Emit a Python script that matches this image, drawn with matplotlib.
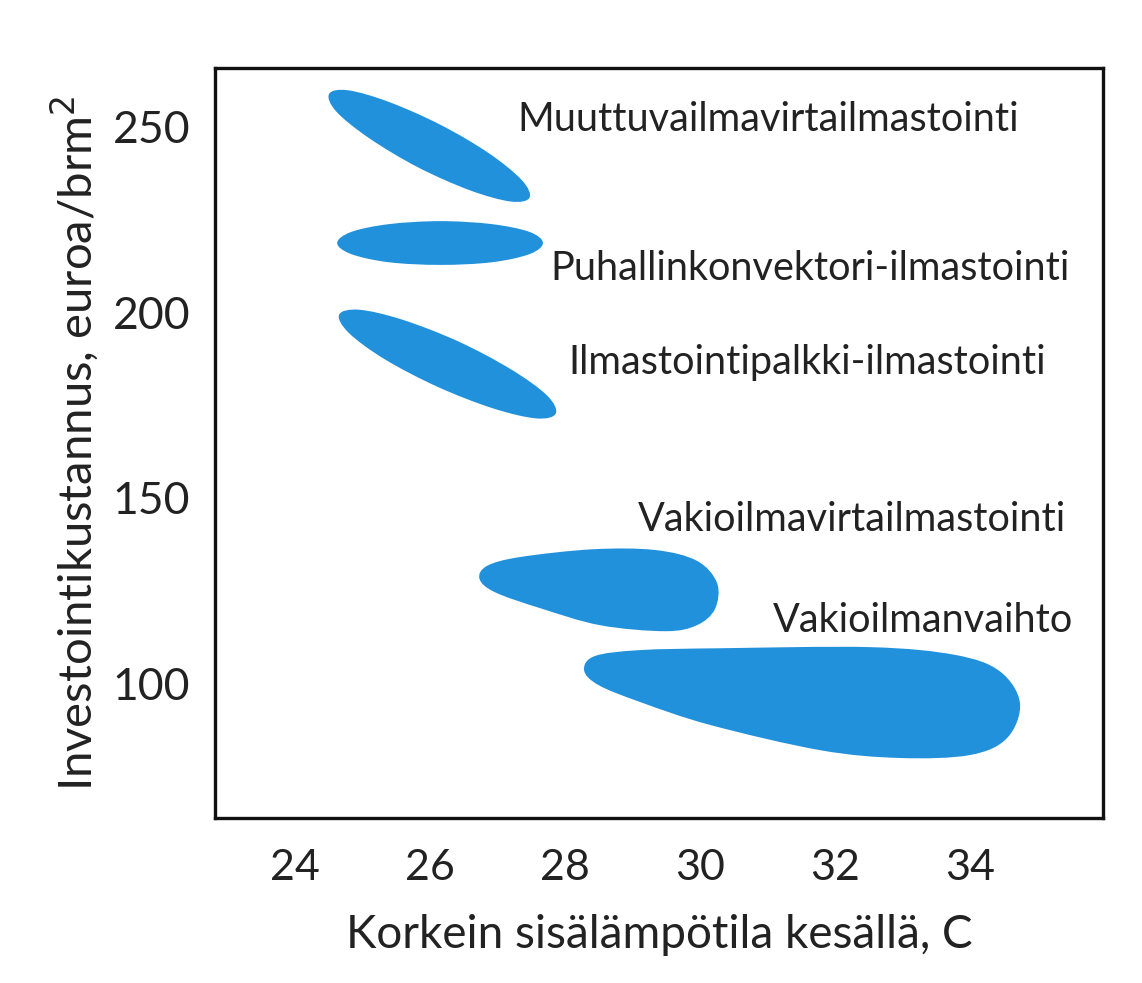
"""Investointikustannus vs. korkein sisälämpötila eri ilmastointiratkaisuilla."""

import numpy as np
import matplotlib.pyplot as plt
from matplotlib.path import Path
from matplotlib.patches import PathPatch

# Region outlines: temperature (C), cost (euroa/brm2)
muuttuva_t = [27.47, 27.19, 26.59, 25.82, 25.10, 24.61, 24.50, 24.78,
              25.38, 26.15, 26.87, 27.36]
muuttuva_c = [230.9, 229.9, 232.9, 239.1, 246.9, 254.1, 258.9, 259.9,
              256.8, 250.6, 242.9, 235.6]

puhallin_t = [27.67, 27.47, 26.91, 26.15, 25.39, 24.83, 24.62, 24.83,
              25.39, 26.15, 26.91, 27.47]
puhallin_c = [218.7, 215.7, 213.5, 212.8, 213.5, 215.7, 218.7, 221.7,
              223.8, 224.6, 223.8, 221.7]

palkki_t = [27.86, 27.57, 26.93, 26.11, 25.32, 24.79, 24.65, 24.95,
            25.59, 26.41, 27.19, 27.73]
palkki_c = [172.7, 171.4, 174.1, 179.9, 187.4, 194.5, 199.4, 200.7,
            198.0, 192.2, 184.7, 177.6]

vakiovirta_t = [26.73, 26.84, 27.33, 28.41, 29.33, 29.95, 30.25, 30.22,
                29.95, 29.48, 28.52, 27.63, 26.96]
vakiovirta_c = [128.1, 131.6, 134.0, 136.1, 135.9, 133.0, 127.0, 120.0,
                115.6, 114.0, 115.6, 120.2, 124.5]

vaihto_t = [28.28, 28.44, 29.11, 30.30, 32.52, 33.78, 34.44, 34.74, 34.55,
            34.00, 32.96, 31.78, 30.15, 29.11, 28.49]
vaihto_c = [103.5, 107.3, 108.9, 109.4, 109.7, 107.6, 103.2, 94.6, 85.2,
            80.6, 79.8, 81.9, 88.7, 94.9, 99.5]

names = ['Muuttuvailmavirtailmastointi', 'Puhallinkonvektori-ilmastointi',
         'Ilmastointipalkki-ilmastointi', 'Vakioilmavirtailmastointi',
         'Vakioilmanvaihto']
label_t = [27.29, 27.78, 28.04, 29.07, 31.08]
label_c = [251.9, 211.9, 186.6, 144.0, 117.0]

x_ticks = [24, 26, 28, 30, 32, 34]
y_ticks = [100, 150, 200, 250]

BLUE = '#2191dc'
INK = '#222222'
FONT = ['Lato', 'DejaVu Sans']


def smooth_blob(xs, ys):
    """Closed smooth path through the outline points (Catmull-Rom as Bezier)."""
    p = np.column_stack([xs, ys])
    n = len(p)
    verts = [p[0]]
    codes = [Path.MOVETO]
    for i in range(n):
        p0, p1, p2, p3 = p[i - 1], p[i], p[(i + 1) % n], p[(i + 2) % n]
        verts += [p1 + (p2 - p0) / 6.0, p2 - (p3 - p1) / 6.0, p2]
        codes += [Path.CURVE4] * 3
    return Path(verts, codes)


fig = plt.figure(figsize=(11.42, 9.83), dpi=100)
ax = fig.add_axes([0.1883, 0.1678, 0.7775, 0.763])

blobs = [(muuttuva_t, muuttuva_c), (puhallin_t, puhallin_c),
         (palkki_t, palkki_c), (vakiovirta_t, vakiovirta_c),
         (vaihto_t, vaihto_c)]
for xs, ys in blobs:
    ax.add_patch(PathPatch(smooth_blob(xs, ys), facecolor=BLUE,
                           edgecolor='none'))

for name, t, c in zip(names, label_t, label_c):
    ax.text(t, c, name, fontsize=28.5, family=FONT, color=INK,
            ha='left', va='center')

ax.set_xlim(22.81, 35.97)
ax.set_ylim(63.6, 265.9)
ax.set_xticks(x_ticks)
ax.set_yticks(y_ticks)
ax.tick_params(length=0, colors=INK)
ax.tick_params(axis='x', labelsize=31, pad=22)
ax.tick_params(axis='y', labelsize=32, pad=18)
for lab in ax.get_xticklabels() + ax.get_yticklabels():
    lab.set_family(FONT)

for sp in ax.spines.values():
    sp.set_linewidth(2.4)
    sp.set_color('#111111')

ax.set_xlabel('Korkein sisälämpötila kesällä, C', fontsize=33, family=FONT,
              color=INK, labelpad=20)
ax.set_ylabel('Investointikustannus, euroa/brm$^2$', fontsize=34,
              family=FONT, color=INK, labelpad=8)

fig.savefig('out.png', dpi=100)
